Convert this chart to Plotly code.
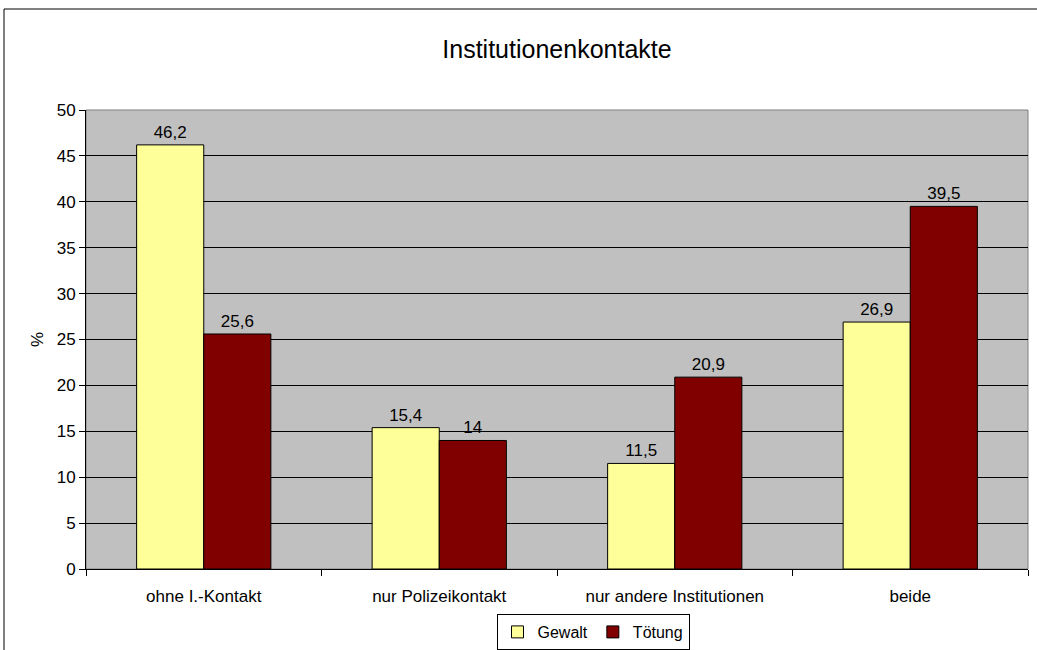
import plotly.graph_objects as go

categories = ["ohne I.-Kontakt", "nur Polizeikontakt", "nur andere Institutionen", "beide"]
gewalt = [46.2, 15.4, 11.5, 26.9]
toetung = [25.6, 14.0, 20.9, 39.5]
series_names = ["Gewalt", "Tötung"]
y_ticks = [0, 5, 10, 15, 20, 25, 30, 35, 40, 45, 50]

def fmt(v):
    s = ("%.1f" % v).rstrip("0").rstrip(".")
    return s.replace(".", ",")

FONT = "Liberation Sans, Arial, sans-serif"
FS = 17

fig = go.Figure()
fig.add_trace(go.Bar(
    x=categories, y=gewalt, name=series_names[0],
    marker=dict(color="#FFFF99", line=dict(color="black", width=1)),
    text=[fmt(v) for v in gewalt], textposition="outside",
    textfont=dict(size=FS, color="black", family=FONT), cliponaxis=False,
))
fig.add_trace(go.Bar(
    x=categories, y=toetung, name=series_names[1],
    marker=dict(color="#800000", line=dict(color="black", width=1)),
    text=[fmt(v) for v in toetung], textposition="outside",
    textfont=dict(size=FS, color="black", family=FONT), cliponaxis=False,
))

L, R, T, B = 86, 9, 110, 81
W, H = 1037, 650
pw, ph = W - L - R, H - T - B

def px(x):
    return (x - L) / pw

def py(y):
    return (H - B - y) / ph

fig.update_layout(
    width=W, height=H,
    margin=dict(l=L, r=R, t=T, b=B, autoexpand=False),
    paper_bgcolor="white", plot_bgcolor="#C0C0C0",
    font=dict(family=FONT, size=FS, color="black"),
    separators=",.",
    barmode="group", bargap=0.43, bargroupgap=0,
    title=dict(text="Institutionenkontakte", x=0.5, xref="paper", xanchor="center",
               y=1 - 49 / H, yanchor="middle", font=dict(size=25, family=FONT)),
    showlegend=True,
    legend=dict(orientation="h", x=px(593), xanchor="center", y=py(632), yanchor="middle",
                bordercolor="black", borderwidth=1, bgcolor="white",
                font=dict(size=16, family=FONT), itemwidth=30, traceorder="normal"),
    xaxis=dict(showgrid=False, showline=True, linecolor="black", linewidth=1,
               ticks="outside", tickson="boundaries", ticklen=6, tickcolor="black",
               tickfont=dict(size=FS), zeroline=False, automargin=False,
               ticklabelstandoff=12),
    yaxis=dict(range=[0, 50], tickvals=y_ticks, showgrid=True, gridcolor="black", gridwidth=1,
               showline=True, linecolor="black", linewidth=1, ticks="outside", ticklen=6,
               tickcolor="black", tickfont=dict(size=FS), zeroline=False, automargin=False,
               title=dict(text="%", standoff=8, font=dict(size=FS))),
    shapes=[
        dict(type="rect", xref="paper", yref="paper", x0=0, x1=1, y0=0, y1=1,
             line=dict(color="#808080", width=1), layer="below"),
        dict(type="rect", xref="paper", yref="paper", x0=px(4), x1=px(1060), y0=py(680), y1=py(9),
             line=dict(color="black", width=1), fillcolor="rgba(0,0,0,0)"),
    ],
)

fig.write_html("out.html", config={"displayModeBar": False},
               post_script="document.body.style.margin='0';")
